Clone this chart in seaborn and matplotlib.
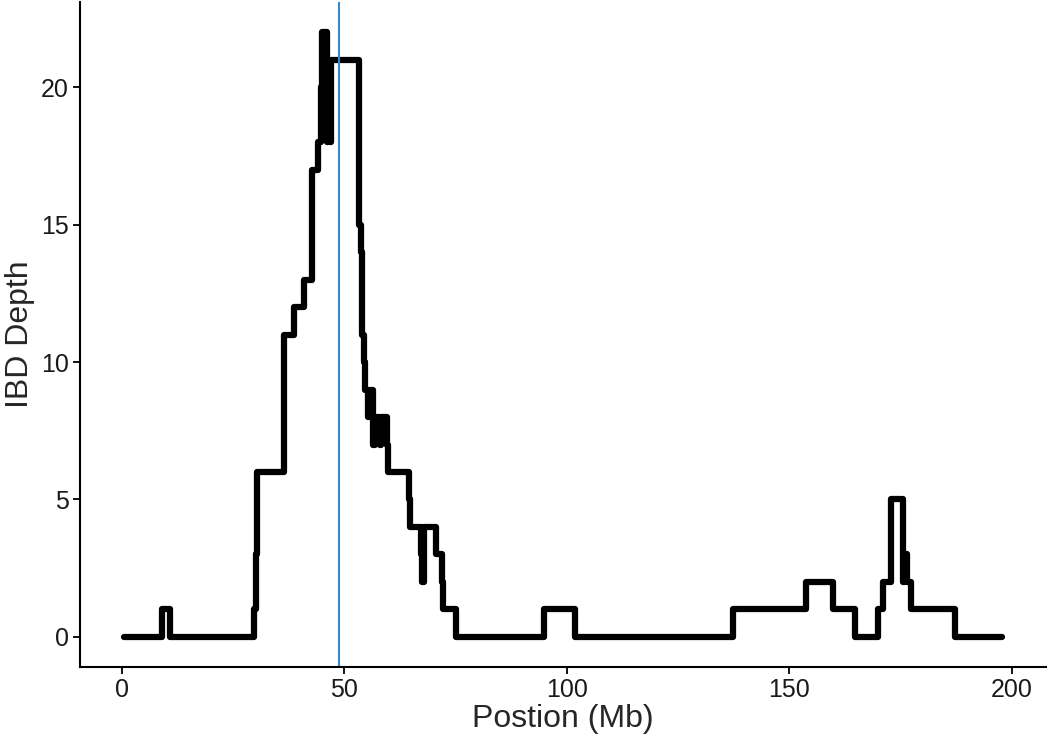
import numpy as np
import pandas as pd
import seaborn as sns
import matplotlib
matplotlib.use("Agg")
import matplotlib.pyplot as plt

# step change points (Mb) and the IBD depth from each point on
position = [0.5, 9.0, 10.8, 29.7, 30.2, 30.5, 36.4, 36.5, 38.7, 40.9, 42.7, 42.8,
            44.1, 44.9, 45.0, 45.6, 45.8, 46.1, 46.3, 46.5, 46.7, 46.9, 47.1,
            53.3, 53.8, 54.1, 54.5, 54.8, 55.3, 55.7, 56.6, 57.0, 58.0, 58.4,
            59.6, 59.9, 64.5, 64.7, 67.3, 67.6, 68.0, 70.6, 72.1, 72.3, 75.2,
            95.0, 102.0, 137.4, 153.7, 159.8, 164.9, 170.0, 171.2, 172.8, 175.5,
            175.9, 176.4, 177.3, 177.6, 187.4, 197.8]
depth = [0, 1, 0, 1, 3, 6, 7, 11, 12, 13, 15, 17,
         18, 20, 22, 19, 22, 18, 21, 19, 21, 18, 21,
         15, 14, 11, 10, 9, 8, 9, 7, 8, 7, 8,
         7, 6, 5, 4, 3, 2, 4, 3, 2, 1, 0,
         1, 0, 1, 2, 1, 0, 1, 2, 5, 2,
         3, 2, 1, 1, 0, 0]
marker_pos = 48.8

df = pd.DataFrame({"pos": position, "depth": depth})

sns.set_style("ticks")
plt.rcParams["font.family"] = ["Liberation Sans", "DejaVu Sans"]

fig = plt.figure(figsize=(10.5, 7.42), dpi=100)
ax = fig.add_axes([0.076, 0.101, 0.920, 0.896])

sns.lineplot(data=df, x="pos", y="depth", drawstyle="steps-post", color="black",
             linewidth=4.5, ax=ax, estimator=None, sort=False)
ax.axvline(marker_pos, color="#3A86CC", linewidth=1.5)

ax.set_xlim(-9.4, 207.7)
ax.set_ylim(-1.1, 23.1)
ax.set_xticks([0, 50, 100, 150, 200])
ax.set_yticks([0, 5, 10, 15, 20])
ax.set_xlabel("Postion (Mb)", fontsize=23, labelpad=1)
ax.set_ylabel("IBD Depth", fontsize=23, labelpad=4)
ax.tick_params(labelsize=18, length=5, width=1.3, pad=3, colors="black", labelcolor="#1a1a1a")
for s in ["left", "bottom"]:
    ax.spines[s].set_linewidth(1.5)
    ax.spines[s].set_color("black")
sns.despine(ax=ax)

fig.savefig("out.png", dpi=100)
